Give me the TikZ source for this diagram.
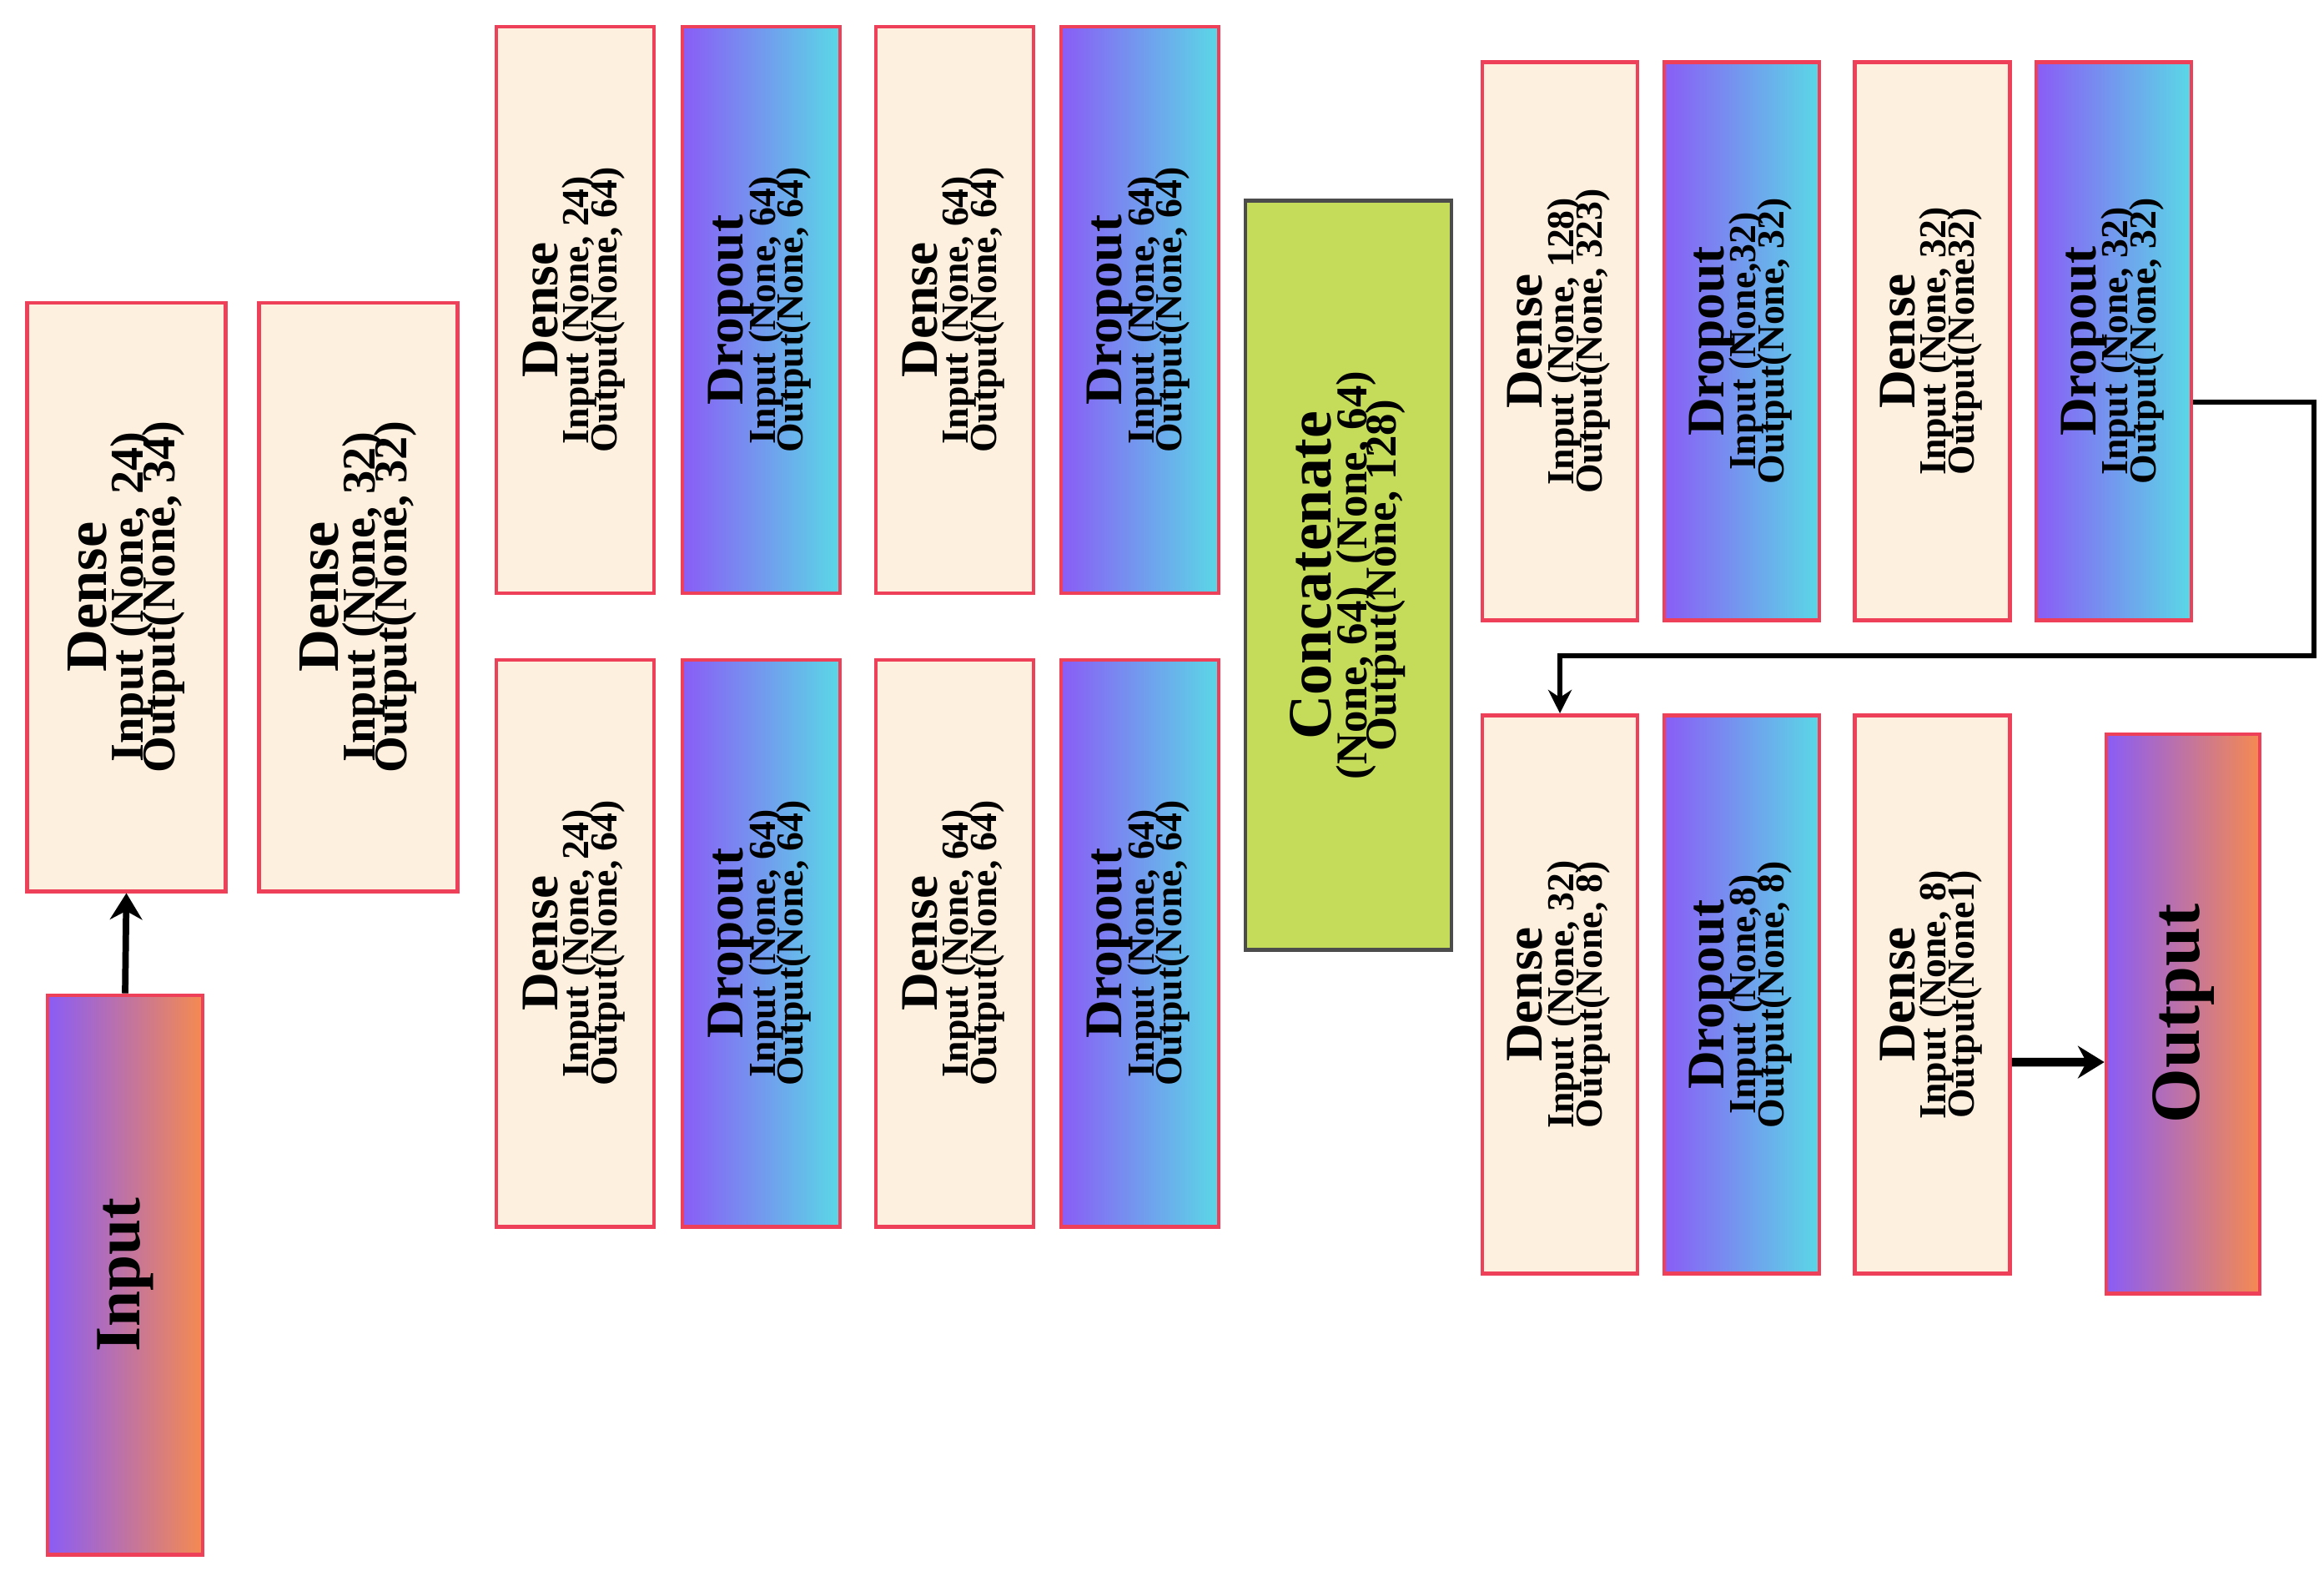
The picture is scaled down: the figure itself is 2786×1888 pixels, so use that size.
\documentclass[tikz,border=0pt]{standalone}
\usepackage{fontspec}
\setmainfont{Liberation Serif}
\usepackage{tikz}
\usetikzlibrary{arrows.meta}
\definecolor{boxred}{HTML}{EE4058}
\definecolor{beige}{HTML}{FDF0DF}
\definecolor{violet}{HTML}{8A5CF6}
\definecolor{cyanish}{HTML}{5AD8E6}
\definecolor{orangeish}{HTML}{F58A50}
\definecolor{lime}{HTML}{C5DC5A}

% rotated layer text: title, then two detail lines
\newcommand{\lyr}[3]{\rotatebox{90}{\begin{tabular}{@{}c@{}}%
    {\fontsize{18}{18}\selectfont #1}\\[-2pt]
    {\fontsize{13}{13}\selectfont #2}\\[-3pt]
    {\fontsize{13}{13}\selectfont #3}\end{tabular}}}
\newcommand{\biglyr}[3]{\rotatebox{90}{\begin{tabular}{@{}c@{}}%
    {\fontsize{20}{20}\selectfont #1}\\[-2pt]
    {\fontsize{16}{16}\selectfont #2}\\[-4pt]
    {\fontsize{16}{16}\selectfont #3}\end{tabular}}}

\begin{document}
\begin{tikzpicture}[x=0.01cm,y=-0.01cm,
    every node/.style={inner sep=0pt,font=\bfseries},
    dense/.style={draw=boxred,line width=1.3pt,fill=beige},
    drop/.style={draw=boxred,line width=1.3pt,left color=violet,right color=cyanish},
    io/.style={draw=boxred,line width=1.3pt,left color=violet,right color=orangeish},
    small/.style={minimum width=1.89cm,minimum height=6.79cm},
    right/.style={minimum width=1.86cm,minimum height=6.69cm},
    big/.style={minimum width=2.38cm,minimum height=7.05cm},
    link/.style={line width=2.2pt,-{Stealth[length=9pt,width=11pt]}}]
    \useasboundingbox (0,0) rectangle (2786,1888);

    \node[io,minimum width=1.86cm,minimum height=6.70cm] (input) at (150,1528)
        {\rotatebox{90}{\fontsize{22}{22}\selectfont Input}};
    \node[dense,big] (dense1) at (151.5,715.5)
        {\biglyr{Dense}{Input (None, 24)}{Output(None, 34)}};
    \node[dense,big] (dense2) at (429.5,715.5)
        {\biglyr{Dense}{Input (None, 32)}{Output(None, 32)}};

    % two parallel branches
    \foreach \yy/\nm in {371.5/a,1130.5/b}{
        \node[dense,small] (\nm dense1) at (689.5,\yy)
            {\lyr{Dense}{Input (None, 24)}{Output(None, 64)}};
        \node[drop,small] (\nm drop1) at (912.5,\yy)
            {\lyr{Dropout}{Input (None, 64)}{Output(None, 64)}};
        \node[dense,small] (\nm dense2) at (1144.5,\yy)
            {\lyr{Dense}{Input (None, 64)}{Output(None, 64)}};
        \node[drop,small] (\nm drop2) at (1366.5,\yy)
            {\lyr{Dropout}{Input (None, 64)}{Output(None, 64)}};
    }

    \node[draw=black!70,line width=1.3pt,fill=lime,minimum width=2.47cm,
        minimum height=8.97cm] (concat) at (1616.5,689.5)
        {\rotatebox{90}{\begin{tabular}{@{}c@{}}%
        {\fontsize{21}{21}\selectfont Concatenate}\\[-2pt]
        {\fontsize{15}{15}\selectfont (None, 64)\ \ (None, 64)}\\[-4pt]
        {\fontsize{15}{15}\selectfont Output(None, 128)}\end{tabular}}};

    \node[dense,right] (rdense1) at (1870,409)
        {\lyr{Dense}{Input (None, 128)}{Output(None, 323)}};
    \node[drop,right] (rdrop1) at (2088,409)
        {\lyr{Dropout}{Input (None,32)}{Output(None, 32)}};
    \node[dense,right] (rdense2) at (2316.5,409)
        {\lyr{Dense}{Input (None, 32)}{Output(None32)}};
    \node[drop,right] (rdrop2) at (2534,409)
        {\lyr{Dropout}{Input (None, 32)}{Output(None, 32)}};

    \node[dense,right] (rdense3) at (1870,1192)
        {\lyr{Dense}{Input (None, 32)}{Output(None, 8)}};
    \node[drop,right] (rdrop3) at (2088,1192)
        {\lyr{Dropout}{Input (None,8)}{Output(None, 8)}};
    \node[dense,right] (rdense4) at (2316.5,1192)
        {\lyr{Dense}{Input (None, 8)}{Output(None1)}};
    \node[io,minimum width=1.84cm,minimum height=6.70cm] (output) at (2617,1215)
        {\rotatebox{90}{\fontsize{24}{24}\selectfont Output}};

    \coordinate (turn) at (2774,786);

    \draw[link] (input.north) -- (dense1.south);
    \draw[line width=1.6pt,-{Stealth[length=8pt,width=8pt]}]
        ([yshift=-0.73cm]rdrop2.east) -| (turn) -| (rdense3.north);
    \draw[link,line width=3pt] ([yshift=-0.81cm]rdense4.east) -- ([yshift=-0.58cm]output.west);
\end{tikzpicture}
\end{document}
